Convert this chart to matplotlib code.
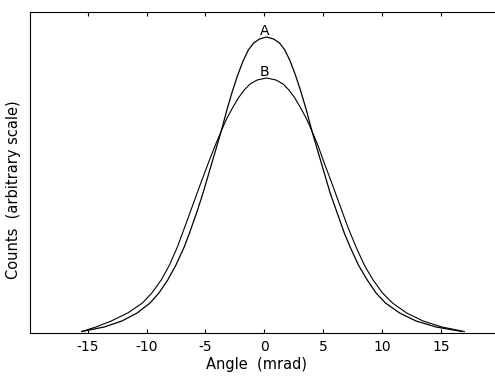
import matplotlib
matplotlib.use("Agg")
import matplotlib.pyplot as plt

# Curve A (narrower, taller) -- angle (mrad) vs counts (arbitrary units)
angle_a = [-15.5, -13.6, -12.1, -10.8, -9.7, -8.95, -8.2, -7.5, -6.8, -6.35,
           -5.75, -5.2, -4.7, -4.2, -3.65, -3.15, -2.7, -2.25, -1.8, -1.35,
           -0.9, -0.4, 0.2, 0.8, 1.3, 1.75, 2.2, 2.65, 3.1, 3.55, 4.05, 4.6,
           5.1, 5.6, 6.2, 6.8, 7.3, 8.0, 8.75, 9.5, 10.3, 11.5, 12.9, 14.6,
           16.8]
counts_a = [1.5, 6, 12, 20, 30, 40, 53, 68, 86, 100,
            120, 140, 160, 180, 202, 224, 242, 258, 272, 283,
            290, 294, 296, 294, 290, 283, 272, 258, 242, 224, 202, 180,
            160, 140, 120, 100, 86, 68, 53, 40, 30, 20, 12, 6,
            1.5]

# Curve B (broader, lower)
angle_b = [-15.5, -14.3, -13.0, -11.6, -10.35, -9.55, -8.75, -8.05, -7.38,
           -6.75, -6.1, -5.45, -4.75, -4.15, -3.65, -3.2, -2.7, -2.2, -1.7,
           -1.2, -0.6, 0.2, 1.0, 1.6, 2.1, 2.6, 3.1, 3.6, 4.05, 4.55, 5.1,
           5.8, 6.45, 7.1, 7.8, 8.5, 9.25, 10.05, 10.9, 12.1, 13.5, 15.1,
           17.0]
counts_b = [1.5, 6, 12, 20, 30, 40, 53, 68, 86,
            106, 127, 148, 170, 188, 202, 214, 225, 235, 243,
            249, 253, 255, 253, 249, 243, 235, 225, 214, 202, 188, 170,
            148, 127, 106, 86, 68, 53, 40, 30, 20, 12, 6,
            1.5]

x_ticks = [-15, -10, -5, 0, 5, 10, 15]

fig = plt.figure(figsize=(4.95, 3.77), dpi=100)
ax = fig.add_axes([30 / 495, 44 / 377, 472 / 495, 321 / 377])

ax.plot(angle_a, counts_a, color="black", lw=0.9)
ax.plot(angle_b, counts_b, color="black", lw=0.8)

# curve labels sit just above each peak
ax.text(0.0, 298, "A", ha="center", va="baseline", fontsize=10)
ax.text(0.0, 257, "B", ha="center", va="baseline", fontsize=10)

ax.set_xlim(-19.9, 20.2)
ax.set_ylim(0, 321)
ax.spines["right"].set_visible(False)
ax.set_xticks(x_ticks)
ax.set_xticklabels([str(t) for t in x_ticks])
ax.set_yticks([])
ax.tick_params(axis="x", direction="in", length=3, top=True, labelsize=10, pad=5)

ax.set_xlabel("Angle  (mrad)", fontsize=10.5)
ax.set_ylabel("Counts  (arbitrary scale)", fontsize=10.5)
ax.xaxis.set_label_coords(0.479, -0.075)
ax.yaxis.set_label_coords(-0.02, 0.445)

fig.savefig("out.png", dpi=100)
